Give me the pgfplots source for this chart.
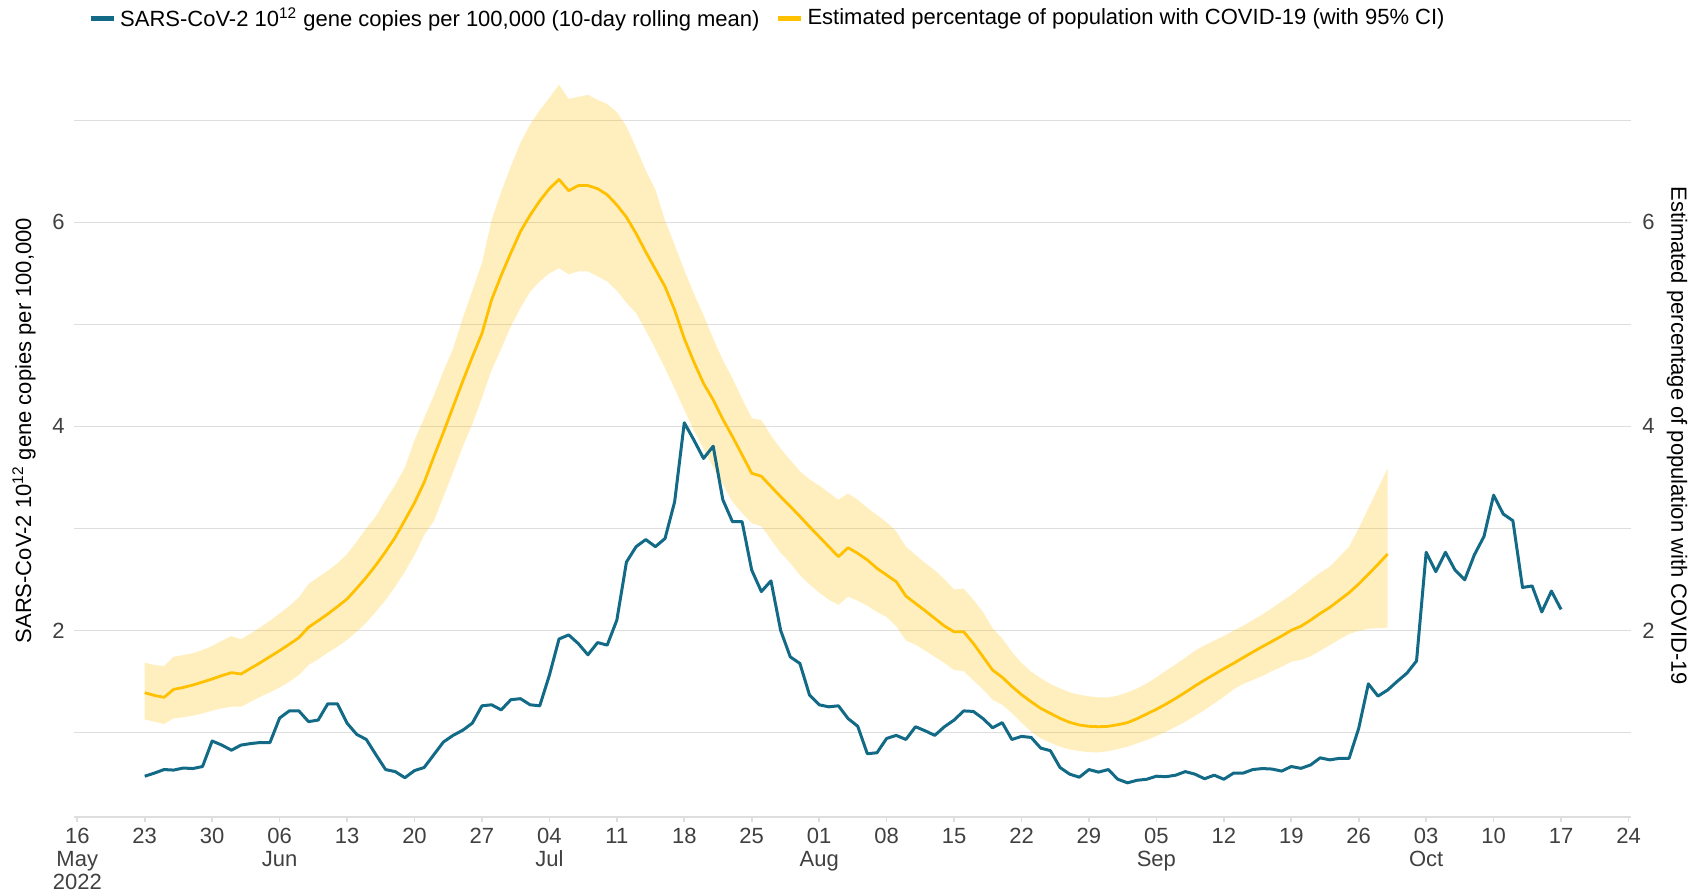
\documentclass[border=0pt]{standalone}
\usepackage{fontspec}
\setmainfont{Liberation Sans}
\usepackage{pgfplots}
\usepackage{pgfplotstable}
\pgfplotsset{compat=1.18}
\usepgfplotslibrary{fillbetween}

\definecolor{bluec}{RGB}{18,106,134}
\definecolor{yellowc}{RGB}{255,192,0}
\definecolor{gridc}{RGB}{222,222,222}
\definecolor{tickc}{RGB}{64,64,64}

% day 0 = 16 May 2022
\pgfplotstableread{
d v
7 0.57
8 0.60
9 0.635
10 0.63
11 0.65
12 0.645
13 0.665
14 0.915
15 0.875
16 0.825
17 0.875
18 0.89
19 0.90
20 0.90
21 1.14
22 1.21
23 1.21
24 1.105
25 1.12
26 1.28
27 1.28
28 1.09
29 0.98
30 0.93
31 0.78
32 0.635
33 0.615
34 0.555
35 0.625
36 0.655
37 0.78
38 0.905
39 0.97
40 1.02
41 1.09
42 1.26
43 1.27
44 1.22
45 1.32
46 1.33
47 1.27
48 1.26
49 1.56
50 1.915
51 1.955
52 1.87
53 1.76
54 1.88
55 1.855
56 2.10
57 2.67
58 2.82
59 2.89
60 2.82
61 2.90
62 3.26
63 4.035
64 3.865
65 3.685
66 3.805
67 3.28
68 3.065
69 3.065
70 2.59
71 2.38
72 2.485
73 2.0
74 1.74
75 1.675
76 1.365
77 1.27
78 1.25
79 1.26
80 1.135
81 1.06
82 0.79
83 0.80
84 0.94
85 0.97
86 0.93
87 1.055
88 1.015
89 0.97
90 1.055
91 1.12
92 1.21
93 1.205
94 1.135
95 1.045
96 1.095
97 0.93
98 0.96
99 0.95
100 0.845
101 0.82
102 0.655
103 0.59
104 0.56
105 0.635
106 0.61
107 0.635
108 0.54
109 0.505
110 0.53
111 0.54
112 0.57
113 0.565
114 0.58
115 0.615
116 0.59
117 0.545
118 0.58
119 0.54
120 0.60
121 0.60
122 0.635
123 0.645
124 0.64
125 0.62
126 0.665
127 0.647
128 0.68
129 0.75
130 0.73
131 0.745
132 0.745
133 1.04
134 1.475
135 1.355
136 1.415
137 1.50
138 1.58
139 1.70
140 2.765
141 2.575
142 2.765
143 2.59
144 2.495
145 2.74
146 2.92
147 3.325
148 3.14
149 3.075
150 2.42
151 2.435
152 2.18
153 2.385
154 2.205
}\bluetab

\pgfplotstableread{
d c lo hi
7 1.388 1.127 1.683
8 1.362 1.104 1.66
9 1.343 1.081 1.65
10 1.421 1.137 1.742
11 1.44 1.147 1.758
12 1.464 1.163 1.775
13 1.493 1.186 1.807
14 1.523 1.212 1.846
15 1.556 1.235 1.898
16 1.585 1.251 1.944
17 1.572 1.251 1.912
18 1.628 1.30 1.97
19 1.683 1.349 2.03
20 1.742 1.392 2.094
21 1.801 1.44 2.166
22 1.863 1.496 2.238
23 1.928 1.562 2.323
24 2.03 1.66 2.454
25 2.094 1.716 2.52
26 2.16 1.781 2.585
27 2.232 1.84 2.657
28 2.307 1.905 2.748
29 2.411 1.987 2.869
30 2.52 2.075 3.0
31 2.64 2.183 3.12
32 2.771 2.297 3.278
33 2.912 2.428 3.425
34 3.08 2.575 3.598
35 3.25 2.738 3.866
36 3.45 2.934 4.08
37 3.70 3.07 4.30
38 3.94 3.31 4.54
39 4.19 3.55 4.76
40 4.44 3.80 5.06
41 4.68 4.02 5.33
42 4.91 4.28 5.60
43 5.24 4.55 6.02
44 5.48 4.76 6.30
45 5.70 4.98 6.55
46 5.91 5.16 6.78
47 6.07 5.32 6.96
48 6.21 5.42 7.10
49 6.33 5.50 7.22
50 6.42 5.55 7.35
51 6.31 5.49 7.21
52 6.36 5.52 7.23
53 6.36 5.52 7.25
54 6.33 5.47 7.20
55 6.27 5.42 7.16
56 6.17 5.33 7.08
57 6.05 5.21 6.94
58 5.89 5.11 6.73
59 5.71 4.94 6.51
60 5.54 4.76 6.32
61 5.37 4.57 6.02
62 5.14 4.37 5.78
63 4.86 4.16 5.53
64 4.63 3.96 5.30
65 4.42 3.78 5.09
66 4.26 3.60 4.86
67 4.07 3.43 4.65
68 3.90 3.26 4.47
69 3.72 3.15 4.27
70 3.54 3.05 4.08
71 3.51 3.02 4.06
72 3.41 2.89 3.91
73 3.31 2.76 3.78
74 3.215 2.66 3.67
75 3.117 2.54 3.56
76 3.016 2.45 3.48
77 2.918 2.37 3.42
78 2.82 2.30 3.35
79 2.722 2.25 3.28
80 2.81 2.33 3.34
81 2.755 2.29 3.28
82 2.69 2.24 3.20
83 2.608 2.18 3.13
84 2.542 2.13 3.06
85 2.477 2.04 2.97
86 2.336 1.90 2.82
87 2.264 1.86 2.74
88 2.192 1.80 2.66
89 2.117 1.74 2.59
90 2.042 1.68 2.50
91 1.986 1.61 2.40
92 1.986 1.60 2.41
93 1.872 1.51 2.30
94 1.741 1.42 2.18
95 1.61 1.32 2.02
96 1.54 1.27 1.92
97 1.45 1.19 1.79
98 1.37 1.095 1.68
99 1.30 1.006 1.595
100 1.235 0.941 1.53
101 1.186 0.898 1.474
102 1.137 0.859 1.431
103 1.098 0.833 1.392
104 1.072 0.816 1.369
105 1.059 0.806 1.353
106 1.055 0.803 1.343
107 1.059 0.816 1.343
108 1.075 0.836 1.36
109 1.095 0.859 1.392
110 1.134 0.892 1.431
111 1.18 0.925 1.48
112 1.226 0.964 1.539
113 1.277 1.006 1.604
114 1.333 1.055 1.666
115 1.392 1.104 1.731
116 1.454 1.16 1.80
117 1.513 1.219 1.853
118 1.568 1.284 1.899
119 1.624 1.349 1.944
120 1.676 1.421 1.996
121 1.732 1.474 2.045
122 1.787 1.513 2.10
123 1.84 1.552 2.156
124 1.892 1.601 2.218
125 1.944 1.643 2.284
126 2.0 1.692 2.346
127 2.04 1.71 2.42
128 2.1 1.745 2.494
129 2.166 1.80 2.565
130 2.225 1.856 2.624
131 2.297 1.911 2.722
132 2.369 1.964 2.82
133 2.454 1.996 3.0
134 2.549 2.016 3.196
135 2.647 2.022 3.392
136 2.748 2.026 3.588
}\yellowtab

\begin{document}
\begin{tikzpicture}[font=\fontsize{11}{11.5}\selectfont]
\begin{axis}[
  at={(37pt,38.5pt)}, anchor=south west,
  width=778.5pt, height=371.5pt, scale only axis,
  xmin=-0.34, xmax=161.26, ymin=0.17, ymax=7.454,
  axis x line*=bottom, axis y line*=left,
  x axis line style={-, draw=gridc, line width=1pt},
  y axis line style={draw=none},
  tick align=outside, major tick length=2.5pt,
  xtick={0,7,...,161},
  xticklabels={{16\\May\\2022},23,30,{06\\Jun},13,20,27,{04\\Jul},11,18,25,{01\\Aug},08,15,22,29,{05\\Sep},12,19,26,{03\\Oct},10,17,24},
  xticklabel style={align=center, text=tickc, anchor=north, inner sep=0pt, yshift=-3pt},
  xtick style={draw=gridc, line width=0.8pt},
  ytick={1,2,3,4,5,6,7},
  yticklabels={,2,,4,,6,},
  ytick style={draw=none},
  yticklabel style={text=tickc, inner sep=0pt, xshift=-2pt},
  ymajorgrids, grid style={draw=gridc, line width=0.75pt},
  ylabel={SARS-CoV-2 10\textsuperscript{12} gene copies per 100,000},
  ylabel style={at={(axis description cs:-0.0321,0.52)}, anchor=center},
  legend columns=2,
  legend cell align=left,
  legend style={at={(axis description cs:0.446,1)}, anchor=center, yshift=27.75pt,
    draw=none, fill=none, inner sep=0pt,
    /tikz/every even column/.append style={column sep=6pt}},
  legend image code/.code={\draw[line width=2.5pt] (0pt,0pt) -- (11.5pt,0pt);},
]
\addplot[bluec, line width=1.5pt, line join=round] table[x=d,y=v]{\bluetab};
\addlegendentry{SARS-CoV-2 10\textsuperscript{12} gene copies per 100,000 (10-day rolling mean)}
\addplot[name path=hi, draw=none, forget plot] table[x=d,y=hi]{\yellowtab};
\addplot[name path=lo, draw=none, forget plot] table[x=d,y=lo]{\yellowtab};
\addplot[fill=yellowc, fill opacity=0.25, draw=none, forget plot] fill between[of=hi and lo];
\addplot[yellowc, line width=1.4pt, line join=round] table[x=d,y=c]{\yellowtab};
\addlegendentry{Estimated percentage of population with COVID-19 (with 95\% CI)}
\end{axis}
\begin{axis}[
  at={(37pt,38.5pt)}, anchor=south west,
  width=778.5pt, height=371.5pt, scale only axis,
  xmin=-0.34, xmax=161.26, ymin=0.17, ymax=7.454,
  axis x line=none, axis y line*=right,
  y axis line style={draw=none},
  ytick={2,4,6}, yticklabels={2,4,6},
  ytick style={draw=none},
  yticklabel style={text=tickc, inner sep=0pt, xshift=5.5pt},
  ylabel={Estimated percentage of population with COVID-19},
  ylabel style={at={(axis description cs:1.0295,0.513)}, anchor=center, rotate=180},
]
\addplot[draw=none, forget plot] table[x=d,y=c]{\yellowtab};
\end{axis}
\pgfresetboundingbox
\path[use as bounding box] (0,0) rectangle (854pt,447pt);
\end{tikzpicture}
\end{document}
